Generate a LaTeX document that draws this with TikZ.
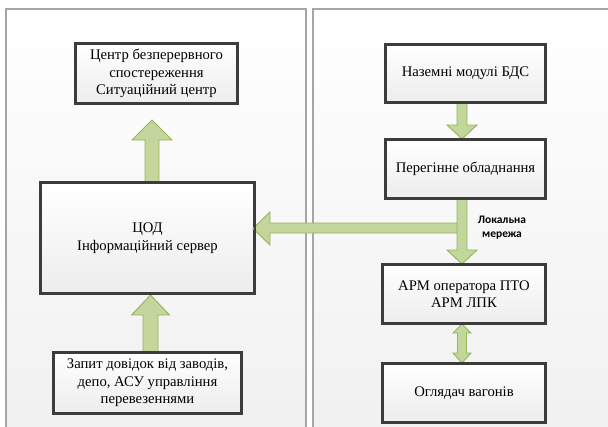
\documentclass[tikz,border=0pt]{standalone}
\usepackage{fontspec}
\setmainfont{Liberation Serif}
\newfontfamily\boxfont{Liberation Serif}
\newfontfamily\lblfont{Carlito}
\usetikzlibrary{shadows,calc}
\definecolor{arrfill}{HTML}{C3D69B}
\definecolor{arrdraw}{HTML}{98B55A}
\definecolor{boxdraw}{HTML}{3C3C3C}
\definecolor{panelline}{HTML}{A6A6A6}
\definecolor{panelbot}{HTML}{F0F0F0}
\definecolor{boxbot}{HTML}{EDEDED}
\tikzset{
  panelbox/.style={draw=panelline, line width=0.8pt, top color=white, bottom color=panelbot},
  blockbox/.style={draw=boxdraw, line width=1.6pt, top color=white, bottom color=boxbot,
    align=center, inner sep=0pt,
    font=\boxfont\fontsize{11pt}{13.1pt}\selectfont,
    drop shadow={shadow xshift=1.2pt, shadow yshift=-1.2pt, opacity=0.45}},
  blockarrow/.style={fill=arrfill, draw=arrdraw, line width=0.7pt, line join=miter},
  netlabel/.style={align=center, inner sep=0pt, font=\lblfont\bfseries\fontsize{8.6pt}{10.5pt}\selectfont}
}
\begin{document}
\begin{tikzpicture}[x=0.75pt,y=-0.75pt]
\useasboundingbox (0,0) rectangle (608,426);
\clip (0,0) rectangle (608,426);
\fill[white] (0,0) rectangle (608,426);
% panels
\path[panelbox] (6,9) rectangle (306,440);
\path[panelbox] (313,9) rectangle (620,440);

% boxes
\node[blockbox, minimum width=120.75pt, minimum height=44.25pt] (ctr) at (156.5,73.5)
  {Центр безперервного\\спостереження\\Ситуаційний центр};
\node[blockbox, minimum width=159.75pt, minimum height=82.5pt] (cod) at (147.5,238)
  {ЦОД\\Інформаційний сервер};
\node[blockbox, minimum width=140.25pt, minimum height=45pt] (req) at (147.5,383)
  {Запит довідок від заводів,\\депо, АСУ управління\\перевезеннями};
\node[blockbox, minimum width=119.25pt, minimum height=42.75pt] (nazem) at (465.5,73.5)
  {Наземні модулі БДС};
\node[blockbox, minimum width=119.25pt, minimum height=43.5pt] (pereg) at (465.5,169)
  {Перегінне обладнання};
\node[blockbox, minimum width=121.5pt, minimum height=43.5pt] (arm) at (464,294)
  {АРМ оператора ПТО\\АРМ ЛПК};
\node[blockbox, minimum width=121.5pt, minimum height=43.5pt] (ogl) at (464,393)
  {Оглядач вагонів};

% block arrows
% cod -> ctr
\path[blockarrow] (145,0 |- cod.north) -- (145,140) -- (132,140) -- (152,120)
  -- (172,140) -- (159,140) -- (159,0 |- cod.north) -- cycle;
% req -> cod
\path[blockarrow] (143,0 |- req.north) -- (143,315) -- (131.5,315) -- (150.5,295)
  -- (169.5,315) -- (158,315) -- (158,0 |- req.north) -- cycle;
% network -> cod
\path[blockarrow] (462,223) -- (270,223) -- (270,212) -- (253,228.5)
  -- (270,245) -- (270,233) -- (462,233) -- cycle;
% pereg -> arm
\path[blockarrow] (457,0 |- pereg.south) -- (457,250) -- (447,250) -- (462,0 |- arm.north)
  -- (477,250) -- (467,250) -- (467,0 |- pereg.south) -- cycle;
% nazem -> pereg
\path[blockarrow] (457,0 |- nazem.south) -- (457,125) -- (447,125) -- (462,0 |- pereg.north)
  -- (477,125) -- (467,125) -- (467,0 |- nazem.south) -- cycle;
% arm <-> ogl
\path[blockarrow] (457.5,333) -- (453,333) -- (462,0 |- arm.south) -- (471,333)
  -- (466.5,333) -- (466.5,353) -- (471,353) -- (462,0 |- ogl.north) -- (453,353)
  -- (457.5,353) -- cycle;

% redraw box outlines on top of arrow ends
\foreach \n in {ctr,cod,req,nazem,pereg,arm,ogl}{
  \draw[boxdraw, line width=1.6pt] (\n.north west) rectangle (\n.south east);
}

\node[netlabel] (lbl) at (502,228) {Локальна\\мережа};
\end{tikzpicture}
\end{document}
